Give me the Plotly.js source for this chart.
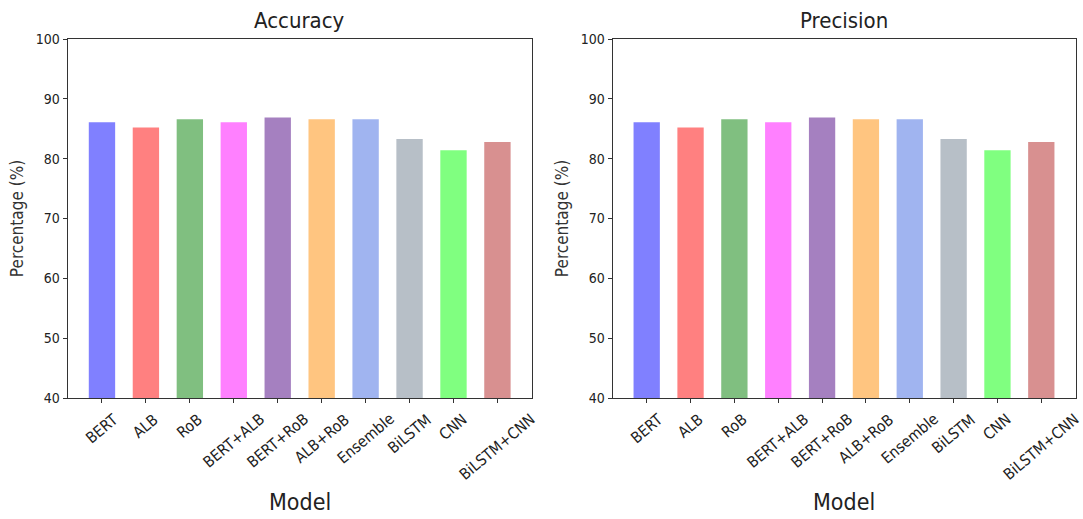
<!DOCTYPE html>
<html>
<head>
<meta charset="utf-8">
<script src="https://cdn.plot.ly/plotly-3.0.1.min.js"></script>
<style>html,body{margin:0;padding:0;background:#fff;}#chart{width:1083px;height:519px;}</style>
</head>
<body>
<div id="chart"></div>
<script>
// ---- data ----
var models = ['BERT', 'ALB', 'RoB', 'BERT+ALB', 'BERT+RoB', 'ALB+RoB', 'Ensemble', 'BiLSTM', 'CNN', 'BiLSTM+CNN'];
var accuracy = [86.1, 85.2, 86.6, 86.1, 86.9, 86.6, 86.6, 83.3, 81.4, 82.8];
var precision = [86.1, 85.2, 86.6, 86.1, 86.9, 86.6, 86.6, 83.3, 81.4, 82.8];
var panelTitles = ['Accuracy', 'Precision'];
var xAxisTitle = 'Model';
var yAxisTitle = 'Percentage (%)';
var yTickVals = [40, 50, 60, 70, 80, 90, 100];
var barColors = ['#8080ff', '#ff8080', '#80bf80', '#ff80ff', '#a580c0', '#ffc580', '#a0b4f0', '#b7bfc7', '#80ff80', '#d89090'];

var FONT = '"DejaVu Sans Condensed", "DejaVu Sans", sans-serif';
var TXT = '#222';
var xIdx = models.map(function (_, i) { return i; });

var traces = [
  {type: 'bar', x: xIdx, y: accuracy, xaxis: 'x', yaxis: 'y', width: 0.6,
   marker: {color: barColors, line: {width: 0}}, hoverinfo: 'x+y', showlegend: false},
  {type: 'bar', x: xIdx, y: precision, xaxis: 'x2', yaxis: 'y2', width: 0.6,
   marker: {color: barColors, line: {width: 0}}, hoverinfo: 'x+y', showlegend: false}
];

var yBottom = 1 - 398 / 519, yTop = 1 - 39 / 519;
var dom1 = [67.7 / 1083, 531.7 / 1083];
var dom2 = [612.5 / 1083, 1075.5 / 1083];

function xAxis(dom, anchor) {
  return {domain: dom, anchor: anchor, range: [-0.78, 9.78], tickvals: xIdx, showticklabels: false,
    ticks: 'outside', ticklen: 4, tickcolor: '#333', showline: true, mirror: true,
    linecolor: '#333', linewidth: 1, showgrid: false, zeroline: false, fixedrange: true};
}
function yAxis(anchor) {
  return {domain: [yBottom, yTop], anchor: anchor, range: [40, 100], tickvals: yTickVals,
    ticks: 'outside', ticklen: 4, tickcolor: '#333', showline: true, mirror: true,
    linecolor: '#333', linewidth: 1, showgrid: false, zeroline: false, fixedrange: true,
    tickfont: {family: FONT, size: 14, color: TXT},
    title: {text: yAxisTitle, font: {family: FONT, size: 17, color: '#333'}, standoff: 7}};
}

var annotations = [];
var doms = [dom1, dom2];
var xrefs = ['x', 'x2'];
for (var p = 0; p < 2; p++) {
  var d = doms[p];
  annotations.push({text: panelTitles[p], xref: 'paper', yref: 'paper', x: (d[0] + d[1]) / 2,
    y: 1 - 20 / 519, xanchor: 'center', yanchor: 'middle', showarrow: false,
    font: {family: FONT, size: 22, color: TXT}});
  annotations.push({text: xAxisTitle, xref: 'paper', yref: 'paper', x: (d[0] + d[1]) / 2,
    y: 1 - 502 / 519, xanchor: 'center', yanchor: 'middle', showarrow: false,
    font: {family: FONT, size: 23, color: TXT}});
  for (var i = 0; i < models.length; i++) {
    annotations.push({text: models[i], xref: xrefs[p], yref: 'paper', x: xIdx[i], y: yBottom,
      yshift: -11, xanchor: 'center', yanchor: 'top', textangle: -40, showarrow: false,
      borderpad: 0, font: {family: FONT, size: 15.5, color: TXT}});
  }
}

var layout = {
  width: 1083, height: 519,
  margin: {l: 0, r: 0, t: 0, b: 0},
  paper_bgcolor: '#ffffff', plot_bgcolor: '#ffffff',
  xaxis: xAxis(dom1, 'y'), yaxis: yAxis('x'),
  xaxis2: xAxis(dom2, 'y2'), yaxis2: yAxis('x2'),
  annotations: annotations,
  bargap: 0.4,
  font: {family: FONT, color: TXT}
};

Plotly.newPlot('chart', traces, layout, {displayModeBar: false, staticPlot: true});
</script>
</body>
</html>
